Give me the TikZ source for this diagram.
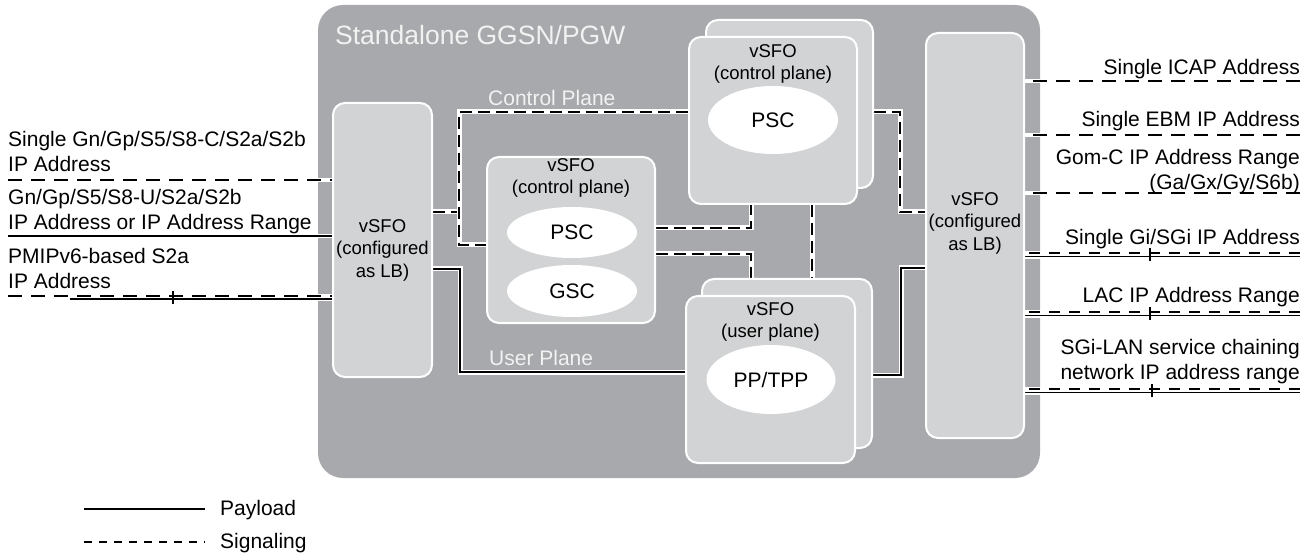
\documentclass[tikz,border=0pt]{standalone}
\usepackage{fontspec}
\setmainfont{Liberation Sans}
\usetikzlibrary{shapes.geometric}
\definecolor{framegray}{HTML}{A7A9AC}
\definecolor{boxgray}{HTML}{D1D3D4}
\definecolor{lightlbl}{HTML}{F2F2F2}
\pgfdeclarelayer{bg}
\pgfsetlayers{bg,main}
\begin{document}
\begin{tikzpicture}[x=1pt,y=-1pt,
  framebox/.style={rectangle, fill=framegray, rounded corners=25pt, inner sep=0},
  vbox/.style={rectangle, draw=white, line width=2pt, fill=boxgray, rounded corners=12pt, inner sep=0},
  ell/.style={ellipse, fill=white, inner sep=0, font=\fontsize{21}{24}\selectfont},
  side/.style={inner sep=0, font=\fontsize{21}{25}\selectfont},
  inlbl/.style={inner sep=0, align=center, font=\fontsize{18.5}{22.5}\selectfont},
  planelbl/.style={inner sep=0, anchor=west, text=lightlbl, font=\fontsize{21}{24}\selectfont},
  casing/.style={draw=white, line width=4.5pt, line cap=butt},
  isig/.style={draw=black, line width=1.3pt, dash pattern=on 12pt off 6pt, preaction={draw=white, line width=5pt, solid}},
  ipay/.style={draw=black, line width=1.3pt, preaction={draw=white, line width=5pt}},
  xsig/.style={draw=black, line width=1.2pt, dash pattern=on 14pt off 9pt},
  xsigp/.style={draw=black, line width=1.2pt, dash pattern=on 11pt off 9pt},
  xpay/.style={draw=black, line width=1.2pt},
  tick/.style={draw=black, line width=2pt}]
\useasboundingbox (0,0) rectangle (1314,553);

% ---- boxes ----
\node[vbox, minimum width=99, minimum height=274] (lbL) at (382.5,240) {};
\node[inlbl] (lbLt) at (382.5,250) {vSFO\\(configured\\as LB)};

\node[vbox, minimum width=98, minimum height=405] (lbR) at (975,235.5) {};
\node[inlbl] (lbRt) at (975,223) {vSFO\\(configured\\as LB)};

\node[vbox, minimum width=168, minimum height=166] (ctrl) at (571,240) {};
\node[inlbl] (ctrlt) at (571,178) {vSFO\\(control plane)};
\node[ell, minimum width=130, minimum height=51] (psc1) at (572,232.5) {PSC};
\node[ell, minimum width=130, minimum height=52] (gsc) at (572,291) {GSC};

\node[vbox, minimum width=167, minimum height=168] (topB) at (789.5,104) {};
\node[vbox, minimum width=168, minimum height=167] (topF) at (773,120.5) {};
\node[inlbl] (topt) at (773,64) {vSFO\\(control plane)};
\node[ell, minimum width=130, minimum height=68] (psc2) at (773,120) {PSC};

\node[vbox, minimum width=170, minimum height=169] (upB) at (787,363.5) {};
\node[vbox, minimum width=169, minimum height=167] (upF) at (770.5,379.5) {};
\node[inlbl] (upt) at (770.5,322) {vSFO\\(user plane)};
\node[ell, minimum width=129, minimum height=69] (pp) at (771,379.5) {PP/TPP};

% ---- labels ----
\node[side, anchor=west, align=left] (lab1) at (8,151) {Single Gn/Gp/S5/S8-C/S2a/S2b\\IP Address};
\node[side, anchor=west, align=left] (lab2) at (8,211.5) {Gn/Gp/S5/S8-U/S2a/S2b\\IP Address or IP Address Range};
\node[side, anchor=west, align=left] (lab3) at (8,268.5) {PMIPv6-based S2a\\IP Address};

\node[side, anchor=east, align=right] (rab1) at (1300,69) {Single ICAP Address};
\node[side, anchor=east, align=right] (rab2) at (1300,121) {Single EBM IP Address};
\node[side, anchor=east, align=right] (rab3) at (1300,171.5) {Gom-C IP Address Range\\(Ga/Gx/Gy/S6b)};
\node[side, anchor=east, align=right] (rab4) at (1300,239) {Single Gi/SGi IP Address};
\node[side, anchor=east, align=right] (rab5) at (1300,297) {LAC IP Address Range};
\node[side, anchor=east, align=right] (rab6) at (1300,362) {SGi-LAN service chaining\\network IP address range};

% ---- legend ----
\coordinate (payA) at (84,509);
\coordinate (payB) at (205,509);
\coordinate (sigA) at (84,542);
\coordinate (sigB) at (205,542);
\draw[xpay] (payA) -- (payB);
\draw[draw=black, line width=1.2pt, dash pattern=on 8pt off 7pt] (sigA) -- (sigB);
\node[side, anchor=west] (legP) at (220,510) {Payload};
\node[side, anchor=west] (legS) at (220,543) {Signaling};

% ---- coordinates ----
\coordinate (c1) at (459,212);
\coordinate (c2) at (459,112);
\coordinate (c3) at (459,245);
\coordinate (c4) at (751,228);
\coordinate (c5) at (751,254);
\coordinate (c6) at (812,240);
\coordinate (c7) at (900,112);
\coordinate (c8) at (900,212);
\coordinate (u1) at (460,269);
\coordinate (u2) at (460,372);
\coordinate (u3) at (901,375);
\coordinate (u4) at (901,268);

\coordinate (e1) at (8,180);
\coordinate (e2) at (8,236);
\coordinate (e3) at (8,296);
\coordinate (e3p) at (70,299);
\coordinate (e3t) at (173,297.5);
\coordinate (r1) at (1300,81);
\coordinate (r2) at (1300,135);
\coordinate (r3) at (1300,193);
\coordinate (r4) at (1300,253);
\coordinate (r4p) at (1300,256.5);
\coordinate (r4t) at (1150,254.5);
\coordinate (r5) at (1300,312);
\coordinate (r5p) at (1300,315.5);
\coordinate (r5t) at (1150,313.5);
\coordinate (r6) at (1300,389);
\coordinate (r6p) at (1300,392.5);
\coordinate (r6t) at (1152,390.5);

\begin{pgfonlayer}{bg}
\node[framebox, minimum width=722, minimum height=473] (frame) at (679,241.5) {};
\node[planelbl, font=\fontsize{26.5}{30}\selectfont] (title) at (335,35) {Standalone GGSN/PGW};
\node[planelbl] (cpl) at (488,97.5) {Control Plane};
\node[planelbl] (upl) at (489,357.5) {User Plane};

% control plane
\draw[isig] (c1 -| lbL.east) -- (c1);
\draw[isig] (c2 -| topF.west) -- (c2) -- (c3) -- (c3 -| ctrl.west);
\draw[isig] (c4 -| ctrl.east) -- (c4) -- (c4 |- topF.south);
\draw[isig] (c5 -| ctrl.east) -- (c5) -- (c5 |- upB.north);
\draw[isig] (c6 |- topF.south) -- (c6 |- upB.north);
\draw[isig] (c7 -| topB.east) -- (c7) -- (c8) -- (c8 -| lbR.west);
% user plane
\draw[ipay] (u1 -| lbL.east) -- (u1) -- (u2) -- (u2 -| upF.west);
\draw[ipay] (u3 -| upB.east) -- (u3) -- (u4) -- (u4 -| lbR.west);

% external casings
\draw[casing] (e1) -- (e1 -| lbL.west);
\draw[casing] (e2) -- (e2 -| lbL.west);
\draw[casing] (e3) -- (e3 -| lbL.west);
\draw[casing] (e3p) -- (e3p -| lbL.west);
\draw[casing] (r1) -- (r1 -| lbR.east);
\draw[casing] (r2) -- (r2 -| lbR.east);
\draw[casing] (r3) -- (r3 -| lbR.east);
\draw[casing] (r4) -- (r4 -| lbR.east);
\draw[casing] (r4p) -- (r4p -| lbR.east);
\draw[casing] (r5) -- (r5 -| lbR.east);
\draw[casing] (r5p) -- (r5p -| lbR.east);
\draw[casing] (r6) -- (r6 -| lbR.east);
\draw[casing] (r6p) -- (r6p -| lbR.east);
% external lines
\draw[xsig] (e1) -- (e1 -| lbL.west);
\draw[xpay] (e2) -- (e2 -| lbL.west);
\draw[xsig] (e3) -- (e3 -| lbL.west);
\draw[xpay] (e3p) -- (e3p -| lbL.west);
\draw[tick] ([yshift=-6.5]e3t) -- ([yshift=6.5]e3t);
\draw[xsig] (r1) -- (r1 -| lbR.east);
\draw[xsig] (r2) -- (r2 -| lbR.east);
\draw[xsig] (r3) -- (r3 -| lbR.east);
\draw[xsigp] (r4) -- (r4 -| lbR.east);
\draw[xpay] (r4p) -- (r4p -| lbR.east);
\draw[tick] ([yshift=-6.5]r4t) -- ([yshift=6.5]r4t);
\draw[xsigp] (r5) -- (r5 -| lbR.east);
\draw[xpay] (r5p) -- (r5p -| lbR.east);
\draw[tick] ([yshift=-6.5]r5t) -- ([yshift=6.5]r5t);
\draw[xsigp] (r6) -- (r6 -| lbR.east);
\draw[xpay] (r6p) -- (r6p -| lbR.east);
\draw[tick] ([yshift=-6.5]r6t) -- ([yshift=6.5]r6t);
\end{pgfonlayer}
\end{tikzpicture}
\end{document}
